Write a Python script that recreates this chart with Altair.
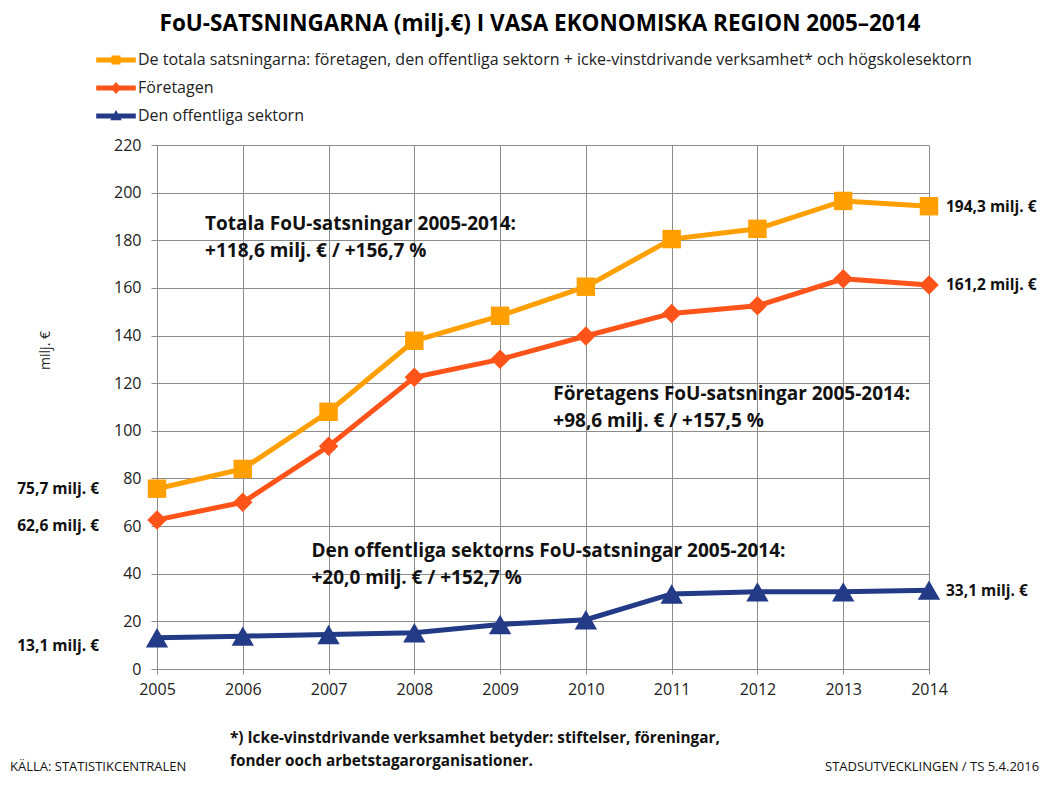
import altair as alt
import pandas as pd

# ---------------- data ----------------
years = [2005, 2006, 2007, 2008, 2009, 2010, 2011, 2012, 2013, 2014]
total = [75.7, 84.0, 108.0, 137.8, 148.3, 160.5, 180.5, 184.8, 196.5, 194.3]
foretagen = [62.6, 70.0, 93.5, 122.5, 130.0, 139.8, 149.3, 152.5, 163.8, 161.2]
offentliga = [13.1, 13.8, 14.5, 15.2, 18.7, 20.7, 31.5, 32.4, 32.4, 33.1]

series_names = [
    "De totala satsningarna: företagen, den offentliga sektorn + icke-vinstdrivande verksamhet* och högskolesektorn",
    "Företagen",
    "Den offentliga sektorn",
]
colors = ["#FFA000", "#FF5419", "#233A86"]
shapes = ["square", "diamond", "triangle-up"]
sizes = [340, 380, 500]

y_ticks = [0, 20, 40, 60, 80, 100, 120, 140, 160, 180, 200, 220]

start_labels = ["75,7 milj. €", "62,6 milj. €", "13,1 milj. €"]
end_labels = ["194,3 milj. €", "161,2 milj. €", "33,1 milj. €"]

annotations = [
    "Totala FoU-satsningar 2005-2014:\n+118,6 milj. € / +156,7 %",
    "Företagens FoU-satsningar 2005-2014:\n+98,6 milj. € / +157,5 %",
    "Den offentliga sektorns FoU-satsningar 2005-2014:\n+20,0 milj. € / +152,7 %",
]
annot_x = [2005.56, 2009.62, 2006.80]
annot_y = [186.8, 115.4, 49.5]

title_text = "FoU-SATSNINGARNA (milj.€) I VASA EKONOMISKA REGION 2005–2014"
footnote = "*) Icke-vinstdrivande  verksamhet betyder: stiftelser, föreningar,\nfonder ooch arbetstagarorganisationer."
source_text = "KÄLLA: STATISTIKCENTRALEN"
credit_text = "STADSUTVECKLINGEN / TS 5.4.2016"

# ---------------- tables ----------------
rows = []
for name, vals in zip(series_names, [total, foretagen, offentliga]):
    for yr, v in zip(years, vals):
        rows.append({"year": yr, "value": v, "series": name})
df = pd.DataFrame(rows)

FONT = "Open Sans"
W, H = 772, 524

xscale = alt.Scale(domain=[2005, 2014], nice=False, zero=False)
yscale = alt.Scale(domain=[0, 220], nice=False, zero=True)

x_enc = alt.X(
    "year:Q", scale=xscale,
    axis=alt.Axis(values=years, format="d", title=None, grid=True,
                  gridColor="#8C8C8C", gridWidth=1, domainColor="#8C8C8C",
                  tickColor="#8C8C8C", tickSize=5, labelFont=FONT,
                  labelFontSize=16, labelColor="#222222", labelPadding=7,
                  labelFlush=False),
)
y_enc = alt.Y(
    "value:Q", scale=yscale,
    axis=alt.Axis(values=y_ticks, title="milj. €", grid=True,
                  gridColor="#8C8C8C", gridWidth=1, domainColor="#8C8C8C",
                  tickColor="#8C8C8C", tickSize=6, labelFont=FONT,
                  labelFontSize=16, labelColor="#222222", labelPadding=10,
                  titleFont=FONT, titleFontSize=14, titleFontWeight="normal",
                  titleColor="#222222", titleX=-112, titleY=205,
                  titleAngle=270, titleAlign="center", titleBaseline="middle"),
)

# legend symbols: a short line with the series marker on it
line_path = "M-3.3,-0.42L3.3,-0.42L3.3,0.42L-3.3,0.42Z"
sq = "M-0.75,-0.75L0.75,-0.75L0.75,0.75L-0.75,0.75Z"
dia = "M0,-1L0.9,0L0,1L-0.9,0Z"
tri = "M0,-1L0.95,0.7L-0.95,0.7Z"
legend_shapes = [line_path + sq, line_path + dia, line_path + tri]

legend = alt.Legend(
    orient="none", legendX=-49, legendY=-93, direction="vertical", title=None,
    labelFont=FONT, labelFontSize=16, labelColor="#222222", labelLimit=2000,
    symbolSize=144, rowPadding=12, padding=0, labelOffset=14,
    symbolStrokeWidth=0, symbolOpacity=1,
)

color_scale = alt.Scale(domain=series_names, range=colors)

base = alt.Chart(df)

layers = []
for i, (name, col) in enumerate(zip(series_names, colors)):
    enc_x = x_enc if i == 0 else alt.X("year:Q")
    enc_y = y_enc if i == 0 else alt.Y("value:Q")
    layers.append(
        base.transform_filter(alt.datum.series == name)
        .mark_line(strokeWidth=5, color=col)
        .encode(x=enc_x, y=enc_y)
    )
for name, col, shp, sz in zip(series_names, colors, shapes, sizes):
    layers.append(
        base.transform_filter(alt.datum.series == name)
        .mark_point(filled=True, opacity=1, shape=shp, size=sz, color=col)
        .encode(x="year:Q", y="value:Q")
    )

# legend-only layer (no rows; entries come from the scale domain)
legend_df = pd.DataFrame({"series": pd.Series([], dtype=str)})
layers.append(
    alt.Chart(legend_df).mark_point(filled=True, opacity=1, size=144).encode(
        color=alt.Color("series:N", scale=color_scale, legend=legend),
        shape=alt.Shape("series:N", scale=alt.Scale(domain=series_names, range=legend_shapes), legend=legend),
    )
)

# value labels at series start / end
start_vals = [total[0], foretagen[0], offentliga[0]]
end_vals = [total[-1], foretagen[-1], offentliga[-1]]
start_dy = [0, 6, 8]
end_dy = [1, 0, 1]
for lbl, v, d in zip(start_labels, start_vals, start_dy):
    t = pd.DataFrame({"year": [years[0]], "value": [v], "label": [lbl]})
    layers.append(alt.Chart(t).mark_text(
        align="right", baseline="middle", dx=-58, dy=d, font=FONT,
        fontSize=15.5, fontWeight="bold", color="#111111",
    ).encode(x="year:Q", y="value:Q", text="label:N"))
for lbl, v, d in zip(end_labels, end_vals, end_dy):
    t = pd.DataFrame({"year": [years[-1]], "value": [v], "label": [lbl]})
    layers.append(alt.Chart(t).mark_text(
        align="left", baseline="middle", dx=17, dy=d, font=FONT,
        fontSize=15.5, fontWeight="bold", color="#111111",
    ).encode(x="year:Q", y="value:Q", text="label:N"))

ann_df = pd.DataFrame({"x": annot_x, "y": annot_y, "text": [a.split("\n") for a in annotations]})
layers.append(alt.Chart(ann_df).mark_text(
    align="left", baseline="middle", font=FONT, fontSize=19, fontWeight="bold",
    color="#111111", lineHeight=27,
).encode(x="x:Q", y="y:Q", text="text"))

# title and footer texts
def free_text(txt, px, py, **kw):
    d = pd.DataFrame({"t": [txt.split("\n")]})
    return alt.Chart(d).mark_text(font=FONT, **kw).encode(
        x=alt.value(px), y=alt.value(py), text="t")

layers.append(free_text(title_text, 383, -121, fontSize=22.5, fontWeight="bold",
                        color="#000000", align="center", baseline="middle"))
layers.append(free_text(footnote, 73, 593, fontSize=15.3, fontWeight="bold",
                        color="#111111", align="left", baseline="middle", lineHeight=23))
layers.append(free_text(source_text, -147, 622, fontSize=13, color="#111111",
                        align="left", baseline="middle"))
layers.append(free_text(credit_text, 668, 622, fontSize=13, color="#111111",
                        align="left", baseline="middle"))

chart = alt.layer(*layers).properties(
    width=W, height=H,
    autosize=alt.AutoSizeParams(type="none"),
    padding={"left": 149, "top": 137, "right": 114, "bottom": 108},
).configure_view(stroke="#8C8C8C", strokeWidth=1).configure(background="white")

chart.save("out.html", embed_options={"renderer": "svg", "actions": False})
